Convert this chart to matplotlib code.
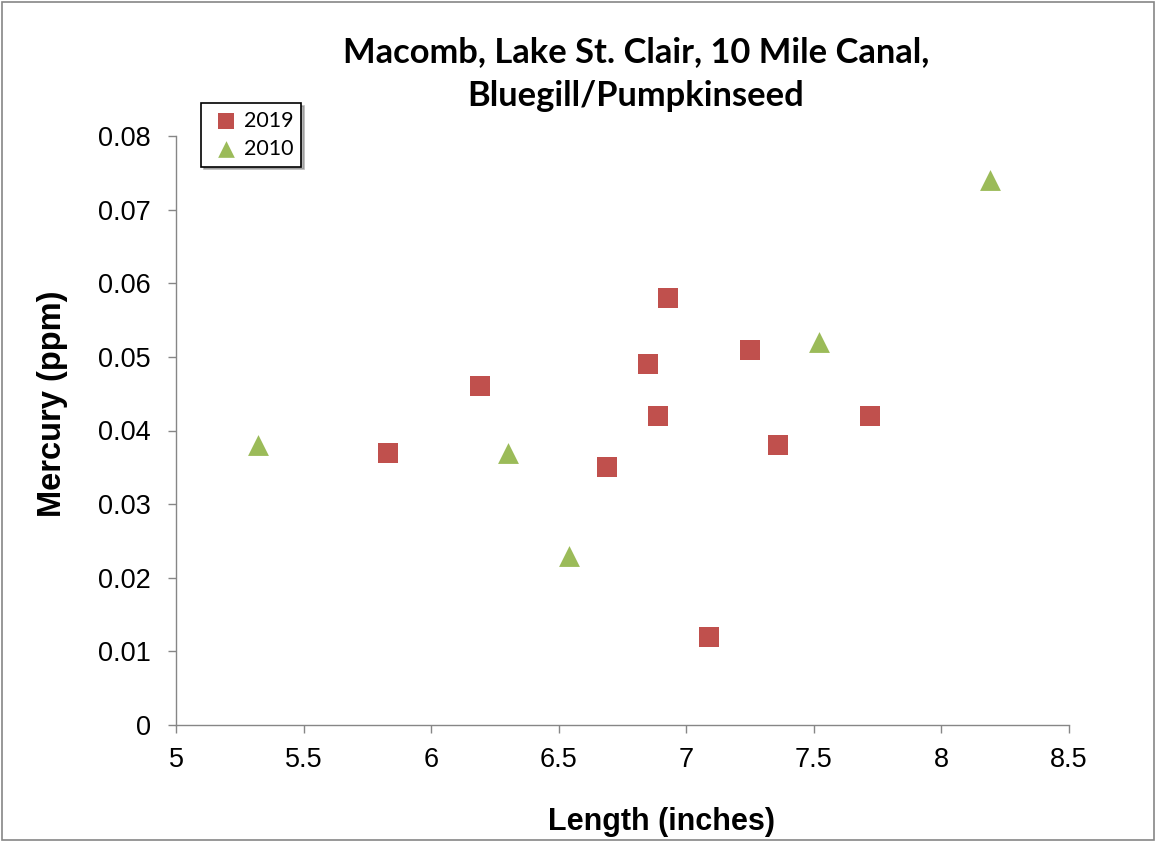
import matplotlib.pyplot as plt
from matplotlib.patches import Rectangle

# 2019 samples (squares)
len_2019 = [5.83, 6.19, 6.69, 6.85, 6.89, 6.93, 7.09, 7.25, 7.36, 7.72]
hg_2019 = [0.037, 0.046, 0.035, 0.049, 0.042, 0.058, 0.012, 0.051, 0.038, 0.042]

# 2010 samples (triangles)
len_2010 = [5.32, 6.30, 6.54, 7.52, 8.19]
hg_2010 = [0.038, 0.037, 0.023, 0.052, 0.074]

x_ticks = [5, 5.5, 6, 6.5, 7, 7.5, 8, 8.5]
y_ticks = [0, 0.01, 0.02, 0.03, 0.04, 0.05, 0.06, 0.07, 0.08]

W, H = 1156, 842
fig = plt.figure(figsize=(W / 100, H / 100), dpi=100)
ax = fig.add_axes([176 / W, 1 - 725 / H, (1069 - 176) / W, (725 - 136) / H])

ax.scatter(len_2019, hg_2019, marker="s", s=15**2, color="#C0504D", linewidths=0,
           label="2019", zorder=3)
ax.scatter(len_2010, hg_2010, marker="^", s=15**2, color="#9BBB59", linewidths=0,
           label="2010", zorder=3)

ax.set_xlim(5, 8.5)
ax.set_ylim(0, 0.08)
ax.set_xticks(x_ticks)
ax.set_xticklabels([f"{v:g}" for v in x_ticks])
ax.set_yticks(y_ticks)
ax.set_yticklabels([f"{v:g}" for v in y_ticks])
ax.tick_params(labelsize=19.5, labelcolor="black", color="#868686", length=6, width=1,
               direction="out")
ax.tick_params(axis="x", pad=10)
ax.tick_params(axis="y", pad=12)
for lab in ax.get_xticklabels() + ax.get_yticklabels():
    lab.set_family("Liberation Sans")

for side in ("top", "right"):
    ax.spines[side].set_visible(False)
for side in ("left", "bottom"):
    ax.spines[side].set_color("#868686")
    ax.spines[side].set_linewidth(1)

# axis titles (Excel places them a little off-centre)
fig.text(662 / W, 1 - 822 / H, "Length (inches)", ha="center", va="center",
         fontsize=22, fontweight="bold", family="Liberation Sans")
fig.text(52 / W, 1 - 404 / H, "Mercury (ppm)", ha="center", va="center", rotation=90,
         fontsize=23.5, fontweight="bold", family="Liberation Sans")

fig.text(636 / W, 1 - 52 / H, "Macomb, Lake St. Clair, 10 Mile Canal,", ha="center",
         va="center", fontsize=24.8, fontweight="bold", family="Lato")
fig.text(636 / W, 1 - 96 / H, "Bluegill/Pumpkinseed", ha="center", va="center",
         fontsize=24.8, fontweight="bold", family="Lato")

leg = ax.legend(loc="upper left", bbox_to_anchor=(201 / W, 1 - 103 / H),
                bbox_transform=fig.transFigure, borderaxespad=0, frameon=True,
                fancybox=False, shadow={"color": "#888888", "alpha": 0.6},
                edgecolor="black", handletextpad=0.05, borderpad=0.35, labelspacing=0.4,
                handlelength=1.6, markerscale=0.8, prop={"family": "Lato", "size": 15.5})
leg.get_frame().set_linewidth(1.2)

# outer chart border
fig.add_artist(Rectangle((0.002, 0.002), 0.996, 0.996, transform=fig.transFigure,
                         fill=False, edgecolor="#868686", linewidth=1.2))

fig.savefig("out.png", dpi=100)
